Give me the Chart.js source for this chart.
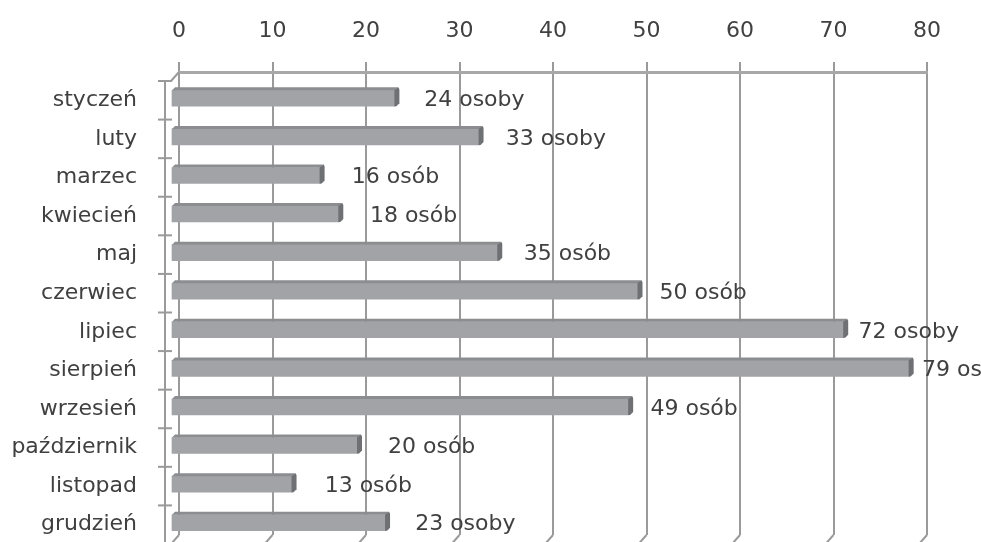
<!DOCTYPE html>
<html>
<head>
<meta charset="utf-8">
<script src="https://cdn.jsdelivr.net/npm/chart.js@4/dist/chart.umd.min.js"></script>
<style>
  html, body { margin: 0; padding: 0; background: #ffffff; }
  #wrap { width: 981px; height: 542px; position: relative; }
</style>
</head>
<body>
<div id="wrap"><canvas id="c" width="981" height="542"></canvas></div>
<script>
const months = ["styczeń","luty","marzec","kwiecień","maj","czerwiec","lipiec","sierpień","wrzesień","październik","listopad","grudzień"];
const people = [24, 33, 16, 18, 35, 50, 72, 79, 49, 20, 13, 23];
const valueLabels = ["24 osoby","33 osoby","16 osób","18 osób","35 osób","50 osób","72 osoby","79 osoby","49 osób","20 osób","13 osób","23 osoby"];
const axisTicks = [0, 10, 20, 30, 40, 50, 60, 70, 80];

const FONT = "'DejaVu Sans', sans-serif";
const FS = 22;
const TXT = '#404040';
const GRID = '#9a9a9a';
const DX = -8, DY = 7;      // bar depth shift (front face)
const FX = -8, FY = 9;      // front plane shift

const threeD = {
  id: 'threeD',
  beforeDatasetsDraw(chart) {
    const ctx = chart.ctx, a = chart.chartArea, xs = chart.scales.x;
    ctx.save();
    ctx.strokeStyle = GRID;
    ctx.lineWidth = 2;
    const wx = a.left - 14;
    ctx.beginPath();
    ctx.moveTo(wx, a.top + FY - 1);
    ctx.lineTo(wx, chart.height + 2);
    ctx.stroke();
    ctx.beginPath();
    ctx.moveTo(a.left, a.top);
    ctx.lineTo(a.left + FX, a.top + FY);
    ctx.stroke();
    const n = months.length;
    const step = (a.bottom - a.top) / n;
    for (let i = 0; i <= n; i++) {
      const y = a.top + FY + i * step;
      ctx.beginPath();
      ctx.moveTo(wx - 7, y);
      ctx.lineTo(wx + 7, y);
      ctx.stroke();
    }
    axisTicks.forEach(v => {
      const x = xs.getPixelForValue(v);
      ctx.beginPath();
      ctx.moveTo(x, a.bottom);
      ctx.lineTo(x + FX, a.bottom + FY);
      ctx.stroke();
    });
    ctx.restore();
    ctx.save();
    ctx.translate(DX, DY);
  },
  afterDatasetsDraw(chart) {
    const ctx = chart.ctx;
    const meta = chart.getDatasetMeta(0);
    meta.data.forEach((el) => {
      const p = el.getProps(['x', 'y', 'base', 'height'], true);
      const top = p.y - p.height / 2, bot = p.y + p.height / 2;
      // top face
      ctx.fillStyle = '#8b8d90';
      ctx.beginPath();
      ctx.moveTo(p.base, top);
      ctx.lineTo(p.base + 3, top - 3);
      ctx.lineTo(p.x + 3, top - 3);
      ctx.lineTo(p.x, top);
      ctx.closePath();
      ctx.fill();
      // right cap
      ctx.fillStyle = '#6e7073';
      ctx.beginPath();
      ctx.moveTo(p.x - 1, top);
      ctx.lineTo(p.x + 3, top - 3);
      ctx.lineTo(p.x + 4, top - 1);
      ctx.lineTo(p.x + 4, bot - 3);
      ctx.lineTo(p.x + 1, bot);
      ctx.lineTo(p.x - 1, bot);
      ctx.closePath();
      ctx.fill();
    });
    ctx.restore();
    ctx.save();
    ctx.font = FS + 'px ' + FONT;
    ctx.fillStyle = TXT;
    ctx.textBaseline = 'middle';
    ctx.textAlign = 'left';
    meta.data.forEach((el, i) => {
      const v = people[i];
      const off = 28 - 0.3 * v;
      ctx.fillText(valueLabels[i], el.x + off, el.y + FY);
    });
    ctx.restore();
  }
};

new Chart(document.getElementById('c'), {
  type: 'bar',
  data: {
    labels: months,
    datasets: [{
      data: people,
      backgroundColor: '#a1a3a6',
      borderWidth: 0,
      barThickness: 16,
      clip: false
    }]
  },
  options: {
    indexAxis: 'y',
    responsive: false,
    animation: false,
    events: [],
    layout: { padding: { left: 0, right: 54, top: 0, bottom: 7 } },
    plugins: { legend: { display: false }, tooltip: { enabled: false }, title: { display: false } },
    scales: {
      x: {
        position: 'top',
        min: 0, max: 80,
        afterBuildTicks(s) { s.ticks = axisTicks.map(v => ({ value: v })); },
        afterFit(s) { s.height = 72; s.paddingLeft = 0; s.paddingRight = 0; },
        grid: { color: GRID, lineWidth: 2, drawTicks: true, tickLength: 10, tickColor: GRID },
        border: { display: true, color: '#a8a8a8', width: 3 },
        ticks: { color: TXT, font: { family: FONT, size: FS }, padding: 18 }
      },
      y: {
        afterFit(s) { s.width = 179; s.paddingTop = 0; s.paddingBottom = 0; },
        grid: { display: true, drawOnChartArea: false, drawTicks: true, tickLength: 42, color: 'rgba(0,0,0,0)', tickColor: 'rgba(0,0,0,0)' },
        border: { display: false },
        ticks: { color: TXT, font: { family: FONT, size: FS }, padding: 0, labelOffset: 9 }
      }
    }
  },
  plugins: [threeD]
});
</script>
</body>
</html>
